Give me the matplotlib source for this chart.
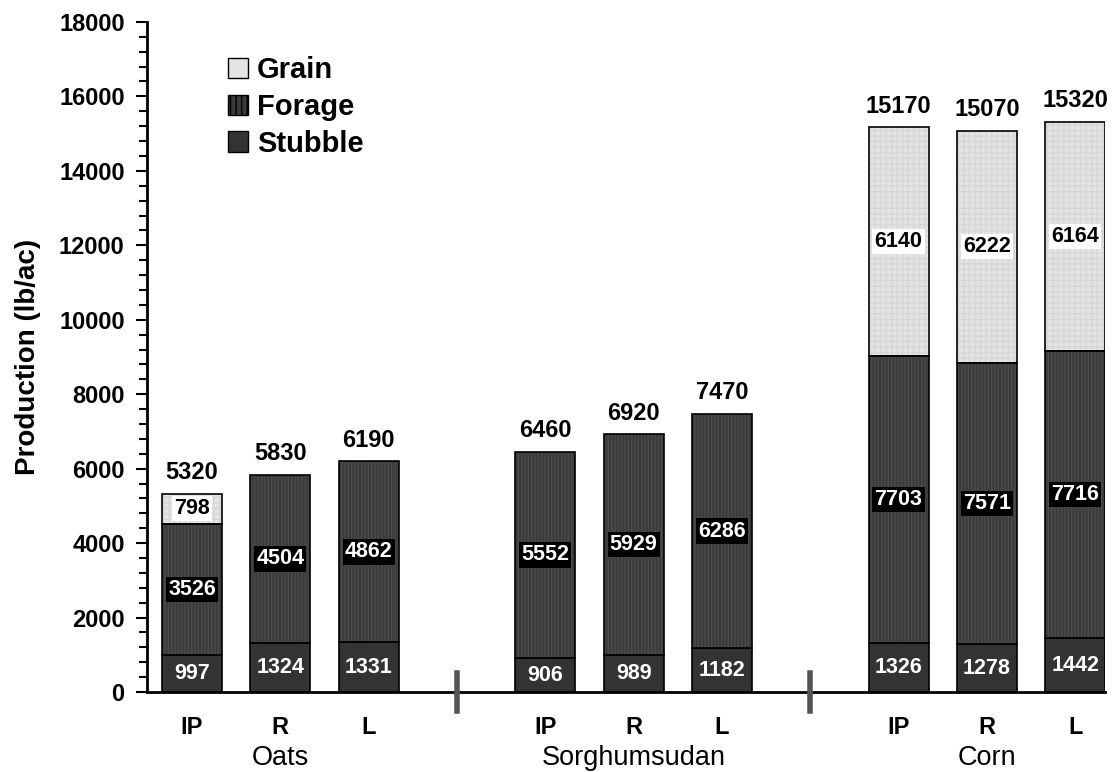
import matplotlib.pyplot as plt
from matplotlib.ticker import MultipleLocator
from matplotlib.patches import Patch

plt.rcParams['font.family'] = ['Liberation Sans', 'DejaVu Sans']

groups = ['Oats', 'Sorghumsudan', 'Corn']
treatments = ['IP', 'R', 'L']
stubble = [997, 1324, 1331, 906, 989, 1182, 1326, 1278, 1442]
forage = [3526, 4504, 4862, 5552, 5929, 6286, 7703, 7571, 7716]
grain = [798, 0, 0, 0, 0, 0, 6140, 6222, 6164]
totals = [5320, 5830, 6190, 6460, 6920, 7470, 15170, 15070, 15320]

x = [0, 1, 2, 4, 5, 6, 8, 9, 10]
w = 0.68

fig = plt.figure(figsize=(11.13, 7.72), dpi=100)
ax = fig.add_axes([0.132, 0.1036, 0.861, 0.868])

bottom2 = [s + f for s, f in zip(stubble, forage)]

ax.bar(x, stubble, w, color='#333333', edgecolor='black', linewidth=1.2, zorder=2)
ax.bar(x, forage, w, bottom=stubble, color='#3b3b3b', edgecolor='#4a4a4a',
       hatch='|||||', linewidth=0, zorder=2)
ax.bar(x, forage, w, bottom=stubble, fill=False, edgecolor='black', linewidth=1.2, zorder=3)
gx = [xi for xi, g in zip(x, grain) if g > 0]
gv = [g for g in grain if g > 0]
gb = [b for b, g in zip(bottom2, grain) if g > 0]
ax.bar(gx, gv, w, bottom=gb, color='#e4e4e4', edgecolor='#d6d6d6',
       hatch='+++', linewidth=0, zorder=2)
ax.bar(gx, gv, w, bottom=gb, fill=False, edgecolor='black', linewidth=1.2, zorder=3)

for i in range(len(x)):
    ax.text(x[i], stubble[i] / 2, str(stubble[i]), ha='center', va='center',
            color='white', fontsize=15.5, fontweight='bold', zorder=4)
    ax.text(x[i], stubble[i] + forage[i] / 2, str(forage[i]), ha='center', va='center',
            color='white', fontsize=15.5, fontweight='bold', zorder=4,
            bbox=dict(boxstyle='square,pad=0.1', fc='black', ec='none'))
    if grain[i] > 0:
        ax.text(x[i], bottom2[i] + grain[i] / 2, str(grain[i]), ha='center', va='center',
                color='black', fontsize=15.5, fontweight='bold', zorder=4,
                bbox=dict(boxstyle='square,pad=0.1', fc='white', ec='none'))
    ax.text(x[i], totals[i] + 260, str(totals[i]), ha='center', va='bottom',
            fontsize=17, fontweight='bold')

ax.set_xlim(-0.51, 10.34)
ax.set_ylim(0, 18000)
ax.yaxis.set_major_locator(MultipleLocator(2000))
ax.yaxis.set_minor_locator(MultipleLocator(400))
ax.tick_params(axis='y', which='major', length=8, width=1.5, labelsize=17, pad=8)
ax.tick_params(axis='y', which='minor', length=6, width=1.5)
for lab in ax.get_yticklabels():
    lab.set_fontweight('bold')
ax.set_xticks([])
ax.spines['top'].set_visible(False)
ax.spines['right'].set_visible(False)
ax.spines['left'].set_linewidth(2)
ax.spines['bottom'].set_linewidth(2)
ax.set_ylabel('Production (lb/ac)', fontsize=20, fontweight='bold', labelpad=13)

for i in range(len(x)):
    ax.text(x[i], -950, treatments[i % 3], ha='center', va='center',
            fontsize=17, fontweight='bold')

for sx in [3, 7]:
    ax.plot([sx, sx], [-500, 500], color='#555555', linewidth=4, clip_on=False, zorder=5)

for gi, g in enumerate(groups):
    ax.text(x[gi * 3 + 1], -1780, g, ha='center', va='center', fontsize=19.5)

handles = [
    Patch(facecolor='#e4e4e4', edgecolor='black', label='Grain'),
    Patch(facecolor='#3b3b3b', edgecolor='black', hatch='|||', label='Forage'),
    Patch(facecolor='#333333', edgecolor='black', label='Stubble'),
]
leg = ax.legend(handles=handles, loc='upper left', bbox_to_anchor=(0.057, 0.988), frameon=False,
                prop={'size': 21, 'weight': 'bold'}, handlelength=0.7, handleheight=0.7,
                handletextpad=0.3, labelspacing=0.3, borderpad=0.4)

fig.savefig('out.png', dpi=100)
